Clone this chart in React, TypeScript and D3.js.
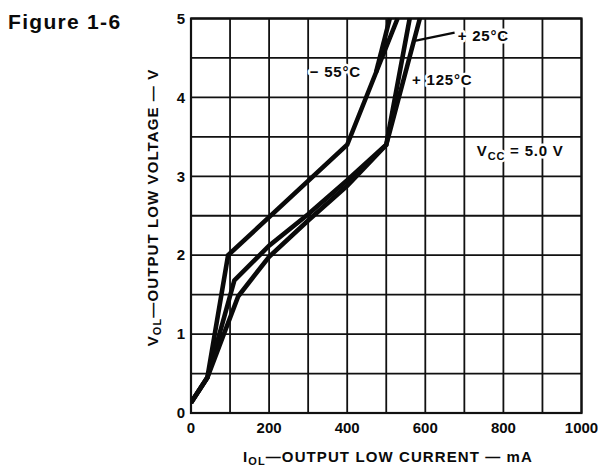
import React from "react";
import * as d3 from "d3";

// ---- data ----
const X_TICKS = [0, 200, 400, 600, 800, 1000];
const Y_TICKS = [0, 1, 2, 3, 4, 5];
const X_GRID = [0, 100, 200, 300, 400, 500, 600, 700, 800, 900, 1000];
const Y_GRID = [0, 0.5, 1, 1.5, 2, 2.5, 3, 3.5, 4, 4.5, 5];

const CURRENT_M55 = [0, 42, 95, 400, 529];
const VOLT_M55 = [0.13, 0.45, 2.0, 3.4, 5.0];
const CURRENT_M55_B = [474, 509];
const VOLT_M55_B = [4.32, 5.0];
const CURRENT_P25 = [0, 42, 111, 200, 300, 400, 500, 560];
const VOLT_P25 = [0.13, 0.45, 1.68, 2.12, 2.52, 2.95, 3.4, 5.0];
const CURRENT_P125 = [0, 42, 121, 200, 300, 400, 500, 586];
const VOLT_P125 = [0.13, 0.45, 1.48, 1.98, 2.44, 2.88, 3.4, 5.0];

const LABEL_M55 = "\u2212 55\u00b0C";
const LABEL_P25 = "+ 25\u00b0C";
const LABEL_P125 = "+ 125\u00b0C";

const W = 598;
const H = 468;
const FONT = "'Liberation Sans', Arial, Helvetica, sans-serif";

export default function App() {
  const x = d3.scaleLinear().domain([0, 1000]).range([191, 581.5]);
  const y = d3.scaleLinear().domain([0, 5]).range([413, 18.5]);

  const line = d3
    .line<[number, number]>()
    .x((d) => x(d[0]))
    .y((d) => y(d[1]));

  const zip = (a: number[], b: number[]) =>
    a.map((v, i) => [v, b[i]] as [number, number]);

  const series = [
    zip(CURRENT_M55, VOLT_M55),
    zip(CURRENT_M55_B, VOLT_M55_B),
    zip(CURRENT_P25, VOLT_P25),
    zip(CURRENT_P125, VOLT_P125),
  ];

  const halo = {
    stroke: "#fff",
    strokeWidth: 5,
    paintOrder: "stroke" as const,
    strokeLinejoin: "round" as const,
  };

  return (
    <svg
      width={W}
      height={H}
      style={{ position: "absolute", left: 0, top: 0, background: "#fff" }}
      fontFamily={FONT}
      fontWeight="bold"
    >
      <rect width={W} height={H} fill="#fff" />
      <defs>
        <clipPath id="plotclip">
          <rect x={x(0)} y={y(5) - 1} width={x(1000) - x(0)} height={y(0) - y(5) + 1} />
        </clipPath>
      </defs>
      {/* grid */}
      <g stroke="#111" strokeWidth={1.8}>
        {X_GRID.map((v) => (
          <line key={"gx" + v} x1={x(v)} x2={x(v)} y1={y(0)} y2={y(5)} />
        ))}
        {Y_GRID.map((v) => (
          <line key={"gy" + v} x1={x(0)} x2={x(1000)} y1={y(v)} y2={y(v)} />
        ))}
      </g>
      <rect
        x={x(0)}
        y={y(5)}
        width={x(1000) - x(0)}
        height={y(0) - y(5)}
        fill="none"
        stroke="#111"
        strokeWidth={2.2}
      />
      {/* curves */}
      <g fill="none" stroke="#0a0a0a" strokeWidth={4.6} strokeLinejoin="miter">
        {series.map((s, i) => (
          <path key={"s" + i} d={line(s) || ""} clipPath="url(#plotclip)" />
        ))}
      </g>
      {/* leader for +25 */}
      <line
        x1={x(576)}
        y1={y(4.72)}
        x2={x(675)}
        y2={y(4.82)}
        stroke="#0a0a0a"
        strokeWidth={2.2}
      />
      {/* annotations */}
      <g fontSize={15} fill="#0a0a0a" letterSpacing={0.8}>
        <text x={x(683)} y={y(4.72)} {...halo}>{LABEL_P25}</text>
        <text x={x(304)} y={y(4.26)} {...halo}>{LABEL_M55}</text>
        <text x={x(566)} y={y(4.16)} {...halo}>{LABEL_P125}</text>
        <text x={x(732)} y={y(3.26)} {...halo}>
          V<tspan fontSize={11} dy={4}>CC</tspan>
          <tspan dy={-4}> = 5.0 V</tspan>
        </text>
      </g>
      {/* tick labels */}
      <g fontSize={15} fill="#0a0a0a">
        {Y_TICKS.map((v) => (
          <text key={"yt" + v} x={185} y={y(v)} dy="0.35em" textAnchor="end">
            {v}
          </text>
        ))}
        {X_TICKS.map((v) => (
          <text key={"xt" + v} x={x(v)} y={433} textAnchor="middle">
            {v}
          </text>
        ))}
      </g>
      {/* axis titles */}
      <text x={388} y={462} fontSize={15} textAnchor="middle" letterSpacing={1.1} fill="#0a0a0a">
        I<tspan fontSize={11} dy={2.5}>OL</tspan>
        <tspan dy={-2.5}>{"\u2014OUTPUT LOW CURRENT \u2014 mA"}</tspan>
      </text>
      <text
        transform={`translate(158, 207.5) rotate(-90)`}
        fontSize={15}
        textAnchor="middle"
        letterSpacing={1.1}
        fill="#0a0a0a"
      >
        V<tspan fontSize={11} dy={3}>OL</tspan>
        <tspan dy={-3}>{"\u2014OUTPUT LOW VOLTAGE \u2014 V"}</tspan>
      </text>
      {/* figure label */}
      <text x={8} y={29} fontSize={21} letterSpacing={1.3} fill="#0a0a0a">
        Figure 1-6
      </text>
    </svg>
  );
}
